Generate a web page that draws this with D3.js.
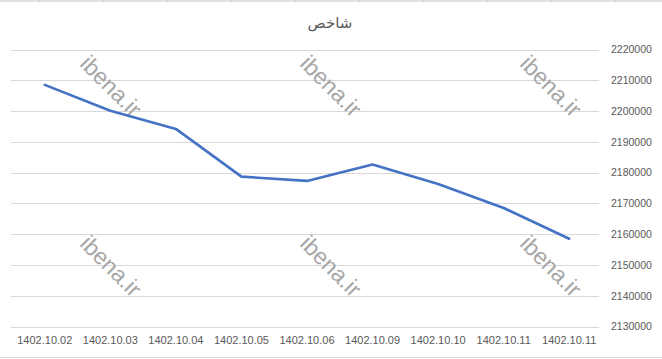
<!DOCTYPE html>
<html>
<head>
<meta charset="utf-8">
<script src="https://cdn.jsdelivr.net/npm/d3@7"></script>
<style>
  body { margin: 0; background: #fff; }
  svg { display: block; font-family: "Liberation Sans", Arial, sans-serif; }
</style>
</head>
<body>
<div id="chart"></div>
<script>
const WIDTH = 662;
const HEIGHT = 359;

// data
const dates = ["1402.10.02", "1402.10.03", "1402.10.04", "1402.10.05", "1402.10.06",
               "1402.10.09", "1402.10.10", "1402.10.11", "1402.10.11"];
const values = [2208500, 2200100, 2194200, 2178700, 2177300, 2182600, 2176300, 2168500, 2158500];
const yTicks = [2130000, 2140000, 2150000, 2160000, 2170000, 2180000, 2190000, 2200000, 2210000, 2220000];
const title = "شاخص";
const watermark = "ibena.ir";

var svg = d3.select("#chart").append("svg")
	.attr("width", WIDTH)
	.attr("height", HEIGHT);

// sheet cell borders showing around the chart
svg.append("line").attr("x1", 0).attr("x2", WIDTH).attr("y1", 1).attr("y2", 1)
	.attr("stroke", "#d9d9d9").attr("stroke-width", 1.5);
svg.append("g")
	.selectAll("line")
	.data(d3.range(10))
	.join("line")
	.attr("x1", function(d) { return 39.5 + d * 64; })
	.attr("x2", function(d) { return 39.5 + d * 64; })
	.attr("y1", 0).attr("y2", 2)
	.attr("stroke", "#cfcfcf");
svg.append("line").attr("x1", 0).attr("x2", WIDTH).attr("y1", 357.5).attr("y2", 357.5)
	.attr("stroke", "#d9d9d9");

var x = d3.scaleBand()
	.domain(d3.range(dates.length))
	.range([12, 602]);

var y = d3.scaleLinear()
	.domain([2130000, 2220000])
	.range([326.5, 49.5]);

// gridlines
svg.append("g")
	.selectAll("line")
	.data(yTicks)
	.join("line")
	.attr("x1", 11)
	.attr("x2", 599)
	.attr("y1", function(d) { return Math.round(y(d)) + 0.5; })
	.attr("y2", function(d) { return Math.round(y(d)) + 0.5; })
	.attr("stroke", "#d9d9d9")
	.attr("stroke-width", 1);

// y axis on the right, labels only
var yAxis = svg.append("g")
	.attr("transform", "translate(611,0)")
	.call(d3.axisRight(y).tickValues(yTicks).tickSize(0).tickPadding(0).tickFormat(d3.format("d")));
yAxis.select(".domain").remove();
yAxis.selectAll("text")
	.attr("fill", "#595959")
	.style("font-size", "10.5px");

// x axis, labels only
var xAxis = svg.append("g")
	.attr("transform", "translate(0,336)")
	.call(d3.axisBottom(x).tickSize(0).tickPadding(0).tickFormat(function(i) { return dates[i]; }));
xAxis.select(".domain").remove();
xAxis.selectAll("text")
	.attr("fill", "#595959")
	.style("font-size", "11px");

// watermarks
var marks = [];
[86, 266].forEach(function(cy) {
	[111, 331, 551].forEach(function(cx) { marks.push([cx, cy]); });
});
svg.append("g")
	.selectAll("text")
	.data(marks)
	.join("text")
	.attr("transform", function(d) { return "translate(" + d[0] + "," + d[1] + ") rotate(45)"; })
	.attr("text-anchor", "middle")
	.attr("dy", "0.35em")
	.attr("fill", "#a6a6a6")
	.style("font-size", "23px")
	.text(watermark);

// the series
var line = d3.line()
	.x(function(d, i) { return x(i) + x.bandwidth() / 2; })
	.y(function(d) { return y(d); });

svg.append("path")
	.datum(values)
	.attr("d", line)
	.attr("fill", "none")
	.attr("stroke", "#4472c4")
	.attr("stroke-width", 2.6)
	.attr("stroke-linejoin", "round")
	.attr("stroke-linecap", "round");

// title
svg.append("text")
	.attr("x", 330)
	.attr("y", 28)
	.attr("text-anchor", "middle")
	.attr("fill", "#595959")
	.style("font-family", "'DejaVu Sans', 'Noto Sans', sans-serif")
	.style("font-size", "15px")
	.text(title);
</script>
</body>
</html>
